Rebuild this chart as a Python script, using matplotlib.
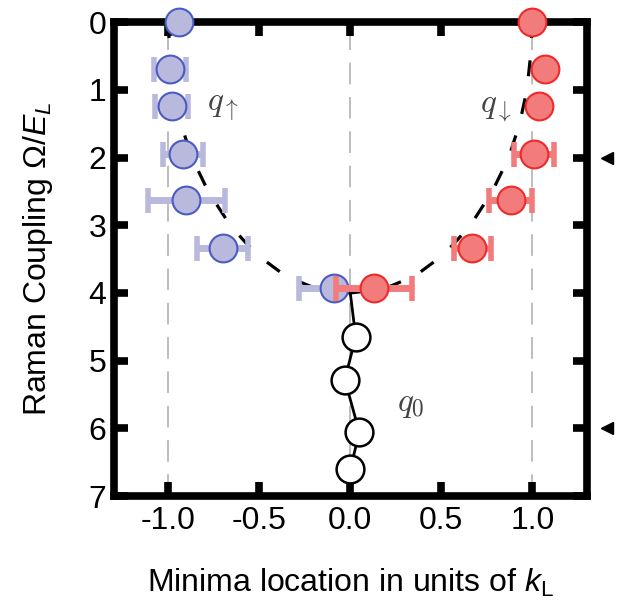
import matplotlib.pyplot as plt

plt.rcParams['font.family'] = ['Liberation Sans', 'DejaVu Sans']
plt.rcParams['mathtext.fontset'] = 'custom'
plt.rcParams['mathtext.it'] = 'Liberation Sans:italic'
plt.rcParams['mathtext.rm'] = 'Liberation Sans'

# measured minima (x in k_L, y = Omega/E_L)
up_x = [-0.94, -0.99, -0.98, -0.92, -0.90, -0.70, -0.09]
up_y = [0.0, 0.69, 1.24, 1.95, 2.62, 3.33, 3.93]
up_err = [0.0, 0.09, 0.09, 0.11, 0.21, 0.14, 0.19]

dn_x = [1.00, 1.07, 1.035, 1.01, 0.88, 0.67, 0.13]
dn_y = [0.0, 0.69, 1.24, 1.95, 2.62, 3.33, 3.93]
dn_err = [0.0, 0.0, 0.0, 0.11, 0.12, 0.10, 0.21]

q0_x = [0.0, 0.03, -0.03, 0.05, 0.0]
q0_y = [4.0, 4.65, 5.28, 6.06, 6.60]

# theory curve
th_y = [0.0, 0.5, 1.0, 1.5, 2.0, 2.5, 3.0, 3.3, 3.5, 3.7, 3.8, 3.9, 3.95, 4.0]
th_x = [1.0, 0.99, 0.97, 0.93, 0.87, 0.78, 0.66, 0.56, 0.48, 0.38, 0.31, 0.22, 0.16, 0.0]

arrow_y = [2, 6]

fig = plt.figure(figsize=(6.21, 6.05), dpi=100)
ax = fig.add_axes([0.1828, 0.180, 0.7625, 0.7835])

for xv in [-1, 0, 1]:
    ax.axvline(xv, color='#b8b8b8', lw=1.3, ls=(0, (12, 7)), zorder=0)

ax.plot([-v for v in th_x], th_y, color='black', lw=2.3, ls=(0, (5, 7)), zorder=1)
ax.plot(th_x, th_y, color='black', lw=2.3, ls=(0, (5, 7)), zorder=1)
ax.plot(q0_x, q0_y, color='black', lw=2, zorder=1)

# error bars (skip zero-width ones), markers on top
up_m = [e > 0 for e in up_err]
dn_m = [e > 0 for e in dn_err]
ax.errorbar([v for v, m in zip(up_x, up_m) if m], [v for v, m in zip(up_y, up_m) if m],
            xerr=[v for v in up_err if v > 0], fmt='none', ecolor='#b9b9de',
            elinewidth=5, capsize=9, capthick=4, zorder=2)
ax.plot(up_x, up_y, 'o', ms=20, mfc='#b9b9de', mec='#4a5cc0', mew=1.5,
        zorder=3, clip_on=False)
ax.errorbar([v for v, m in zip(dn_x, dn_m) if m], [v for v, m in zip(dn_y, dn_m) if m],
            xerr=[v for v in dn_err if v > 0], fmt='none', ecolor='#f27c7c',
            elinewidth=5, capsize=9, capthick=4, zorder=3.5)
ax.plot(dn_x, dn_y, 'o', ms=20, mfc='#f27c7c', mec='#ee2a2a', mew=1.5,
        zorder=4, clip_on=False)
ax.plot(q0_x[1:], q0_y[1:], 'o', ms=20, mfc='white', mec='black', mew=1.8,
        zorder=3, clip_on=False)

ax.plot([1.41] * len(arrow_y), arrow_y, '<', color='black', ms=8, clip_on=False)

ax.text(-0.70, 1.27, r'$q_{\uparrow}$', fontsize=24, color='#444444',
        math_fontfamily='cm', ha='center', va='center')
ax.text(0.80, 1.27, r'$q_{\downarrow}$', fontsize=24, color='#444444',
        math_fontfamily='cm', ha='center', va='center')
ax.text(0.33, 5.65, r'$q_0$', fontsize=24, color='#444444',
        math_fontfamily='cm', ha='center', va='center')

ax.set_xlim(-1.3, 1.3)
ax.set_ylim(7, 0)
ax.set_xticks([-1.0, -0.5, 0.0, 0.5, 1.0])
ax.set_xticklabels(['-1.0', '-0.5', '0.0', '0.5', '1.0'])
ax.set_yticks(range(8))

for s in ax.spines.values():
    s.set_linewidth(5.5)
ax.tick_params(direction='in', length=10, width=5.5, labelsize=23,
               top=True, right=True)
ax.tick_params(axis='x', pad=7)
ax.tick_params(axis='y', pad=5)

ax.set_ylabel(r'Raman Coupling $\Omega/E_L$', fontsize=23)
ax.yaxis.set_label_coords(-0.123, 0.5)
ax.set_xlabel(r'Minima location in units of $k_\mathrm{L}$', fontsize=23)
ax.xaxis.set_label_coords(0.5, -0.15)

fig.savefig('out.png', dpi=100)
